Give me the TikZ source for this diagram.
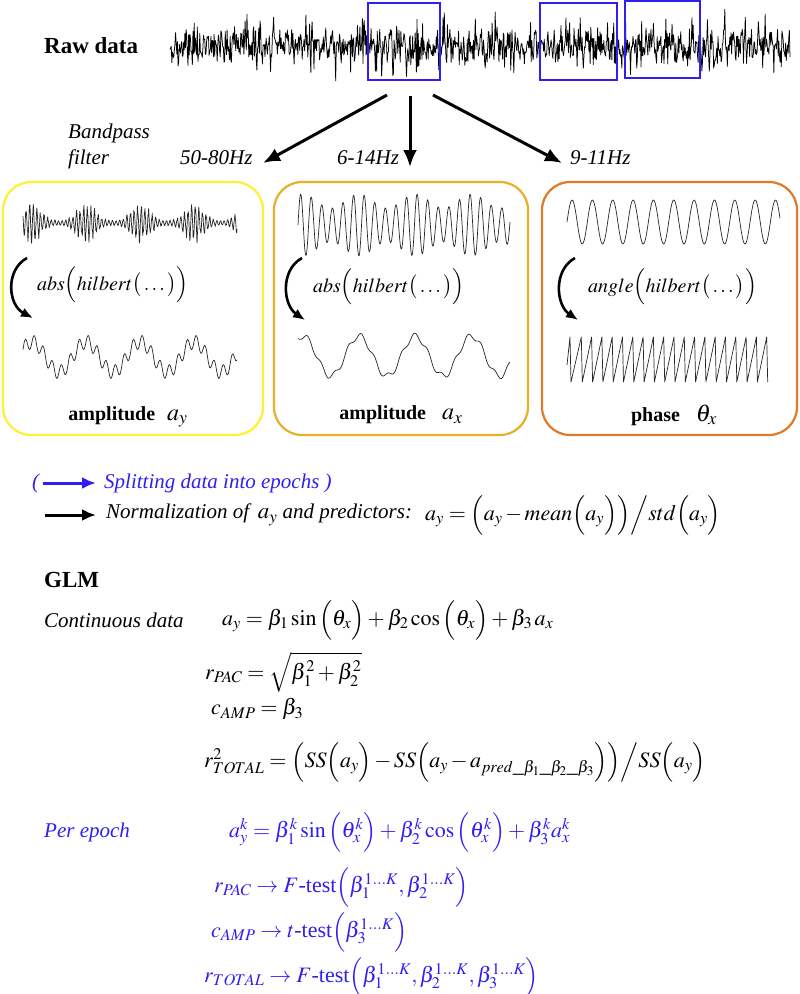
\documentclass[tikz,border=0pt]{standalone}
\usepackage{mathptmx}
\usepackage{fontspec}
\setmainfont{Liberation Serif}
\usetikzlibrary{arrows.meta}
\definecolor{cblue}{RGB}{50,30,240}
\definecolor{ryel}{RGB}{255,240,50}
\definecolor{rgold}{RGB}{230,176,40}
\definecolor{rorange}{RGB}{224,122,40}
\begin{document}
\begin{tikzpicture}[x=1pt,y=-1pt,
  declare function={cb(\r)=\r*\r*\r;},
  sig/.style={line width=0.7pt, black!85, line join=round},
  rbox/.style={line width=2.2pt, rounded corners=28pt, inner sep=0pt},
  epoch/.style={draw=cblue, line width=2pt, inner sep=0pt},
  bigarrow/.style={line width=3pt, -{Latex[length=17pt,width=14pt]}},
  curvarrow/.style={line width=2.6pt, -{Latex[length=12pt,width=10pt]}},
  smallarrow/.style={line width=3pt, -{Latex[length=14pt,width=12pt]}},
  itxt/.style={inner sep=0pt, font=\fontsize{21}{25}\selectfont\itshape},
  btxt/.style={inner sep=0pt, font=\fontsize{23}{27}\selectfont\bfseries},
  mth/.style={inner sep=0pt, font=\fontsize{22}{26}\selectfont},
  bmth/.style={inner sep=0pt, font=\fontsize{20}{24}\selectfont},
  lab/.style={inner sep=0pt, font=\fontsize{20}{24}\selectfont}]
\useasboundingbox (0,0) rectangle (800,994);
\fill[white] (0,0) rectangle (800,994);
\pgfmathsetseed{11}
% ---------- raw data ----------
\node[btxt, anchor=west] (raw) at (44,46) {Raw data};
\draw[sig, line width=0.75pt, black] plot[domain=170:790, samples=1000, variable=\x]
  (\x, {46 + 12*rand + 22*cb(rand) + 5*sin(mod(\x*5.5,36)*10)});
\node[epoch, minimum width=72pt, minimum height=77pt] (e1) at (404,41.5) {};
\node[epoch, minimum width=77pt, minimum height=77pt] (e2) at (578.5,41.5) {};
\node[epoch, minimum width=75pt, minimum height=77pt] (e3) at (662.5,39.5) {};
% ---------- filter arrows ----------
\coordinate (s1) at (387,95);
\coordinate (s2) at (410,96);
\coordinate (s3) at (433,95);
\coordinate (t1) at (263,163);
\coordinate (t2) at (410,167);
\coordinate (t3) at (562,163);
\draw[bigarrow] (s1) -- (t1);
\draw[bigarrow] (s2) -- (t2);
\draw[bigarrow] (s3) -- (t3);
\node[itxt, anchor=west] (bp) at (68,133) {Bandpass};
\node[itxt, anchor=west] (filt) at (68,159) {filter};
\node[itxt, anchor=west] (f1) at (180,158) {50-80Hz};
\node[itxt, anchor=west] (f2) at (337,158) {6-14Hz};
\node[itxt, anchor=west] (f3) at (570,158) {9-11Hz};
% ---------- boxes ----------
\node[rbox, draw=ryel, minimum width=260pt, minimum height=253pt] (b1) at (133,308.5) {};
\node[rbox, draw=rgold, minimum width=254pt, minimum height=253pt] (b2) at (401,308.5) {};
\node[rbox, draw=rorange, minimum width=255pt, minimum height=253pt] (b3) at (669.5,308.5) {};
% box 1 signals
\draw[sig] plot[domain=23:237, samples=650, variable=\x]
  (\x, {223 - (3 + 18*pow(abs(sin((\x-23)*3.33+60)),3))*(0.7+0.3*rand)*sin(mod(\x*10,36)*10)});
\draw[sig] plot[smooth, domain=23:237, samples=260, variable=\x]
  (\x, {372 - 30*pow(abs(sin((\x-23)*3.33+60)),2) - 7*sin((\x-23)*40)});
% box 2 signals
\draw[sig] plot[smooth, domain=298:510, samples=420, variable=\x]
  (\x, {225 - (24 + 7*sin((\x-298)*6.4+60))*sin((\x-298)*34)});
\draw[sig] plot[smooth, domain=298:510, samples=200, variable=\x]
  (\x, {356 - 20*sin((\x-298)*6.4+60) + 3*sin((\x-298)*27)});
% box 3 signals
\draw[sig] plot[smooth, domain=567:780, samples=300, variable=\x]
  (\x, {222 - 22*sin((\x-567)*17.7)});
\draw[sig] (567,365) -- (570,337) -- (571,382)
  \foreach \i in {1,...,19} { -- ({571+\i*10.3},337) -- ({571+\i*10.3+1},382) };
% curved arrows
\coordinate (c1a) at (27,258); \coordinate (c1b) at (33,318);
\coordinate (c2a) at (302,258); \coordinate (c2b) at (305,320);
\coordinate (c3a) at (575,258); \coordinate (c3b) at (578,320);
\draw[curvarrow] (c1a) .. controls (5,270) and (8,305) .. (c1b);
\draw[curvarrow] (c2a) .. controls (280,270) and (283,305) .. (c2b);
\draw[curvarrow] (c3a) .. controls (553,270) and (556,305) .. (c3b);
\node[bmth, anchor=west] (h1) at (37,285) {$abs\Big(hilbert\big(\ldots\big)\Big)$};
\node[bmth, anchor=west] (h2) at (313,287) {$abs\Big(hilbert\big(\ldots\big)\Big)$};
\node[bmth, anchor=west] (h3) at (588,287) {$angle\Big(hilbert\big(\ldots\big)\Big)$};
\node[lab] (l1) at (128,417) {\bfseries amplitude\hspace{12pt}{\fontsize{24}{28}\selectfont$a_y$}};
\node[lab] (l2) at (401,415) {\bfseries amplitude\hspace{16pt}{\fontsize{24}{28}\selectfont$a_x$}};
\node[lab] (l3) at (674,415) {\bfseries phase\hspace{16pt}{\fontsize{24}{28}\selectfont$\theta_x$}};
% ---------- splitting / normalization ----------
\node[itxt, cblue, anchor=west] (lp) at (32,483) {(};
\node[itxt, cblue, anchor=west] (split) at (104,483) {Splitting data into epochs )};
\draw[smallarrow, cblue, shorten <=4pt, shorten >=8pt] (lp) -- (split);
\coordinate (nstart) at (45,515);
\node[itxt, anchor=west] (norm) at (106,515) {Normalization of \,{\fontsize{23}{27}\selectfont$a_y$} and predictors:};
\draw[smallarrow, shorten >=10pt] (nstart) -- (norm);
\node[mth, anchor=west] (normeq) at (425,515) {$\medmuskip=2mu a_y=\Big(a_y-mean\Big(a_y\Big)\Big)\Big/std\Big(a_y\Big)$};
% ---------- GLM ----------
\node[btxt, anchor=west] (glm) at (44,580) {GLM};
\node[itxt, anchor=west] (cont) at (44,620) {Continuous data};
\node[mth, anchor=west] (eq1) at (222,620) {$a_y=\beta_1\sin\Big(\theta_x\Big)+\beta_2\cos\Big(\theta_x\Big)+\beta_3\,a_x$};
\node[mth, anchor=west] (eq2) at (205,672) {$r_{PAC}=\sqrt{\beta_1^2+\beta_2^2}$};
\node[mth, anchor=west] (eq3) at (211,709) {$c_{AMP}=\beta_3$};
\node[mth, anchor=west] (eq4) at (204,762) {$\medmuskip=2mu r_{TOTAL}^2=\Big(SS\Big(a_y\Big)-SS\Big(a_y-a_{pred\_\beta_1\_\beta_2\_\beta_3}\Big)\Big)\Big/SS\Big(a_y\Big)$};
% ---------- per epoch ----------
\node[itxt, cblue, anchor=west] (per) at (44,832) {Per epoch};
\node[mth, cblue, anchor=west] (peq1) at (229,832) {$a_y^k=\beta_1^k\sin\Big(\theta_x^k\Big)+\beta_2^k\cos\Big(\theta_x^k\Big)+\beta_3^k a_x^k$};
\node[mth, cblue, anchor=west] (peq2) at (214,887) {$r_{PAC}\rightarrow F\textrm{-test}\Big(\beta_1^{1\ldots K},\beta_2^{1\ldots K}\Big)$};
\node[mth, cblue, anchor=west] (peq3) at (211,932) {$c_{AMP}\rightarrow t\textrm{-test}\Big(\beta_3^{1\ldots K}\Big)$};
\node[mth, cblue, anchor=west] (peq4) at (204,977) {$r_{TOTAL}\rightarrow F\textrm{-test}\Big(\beta_1^{1\ldots K},\beta_2^{1\ldots K},\beta_3^{1\ldots K}\Big)$};
\end{tikzpicture}
\end{document}
